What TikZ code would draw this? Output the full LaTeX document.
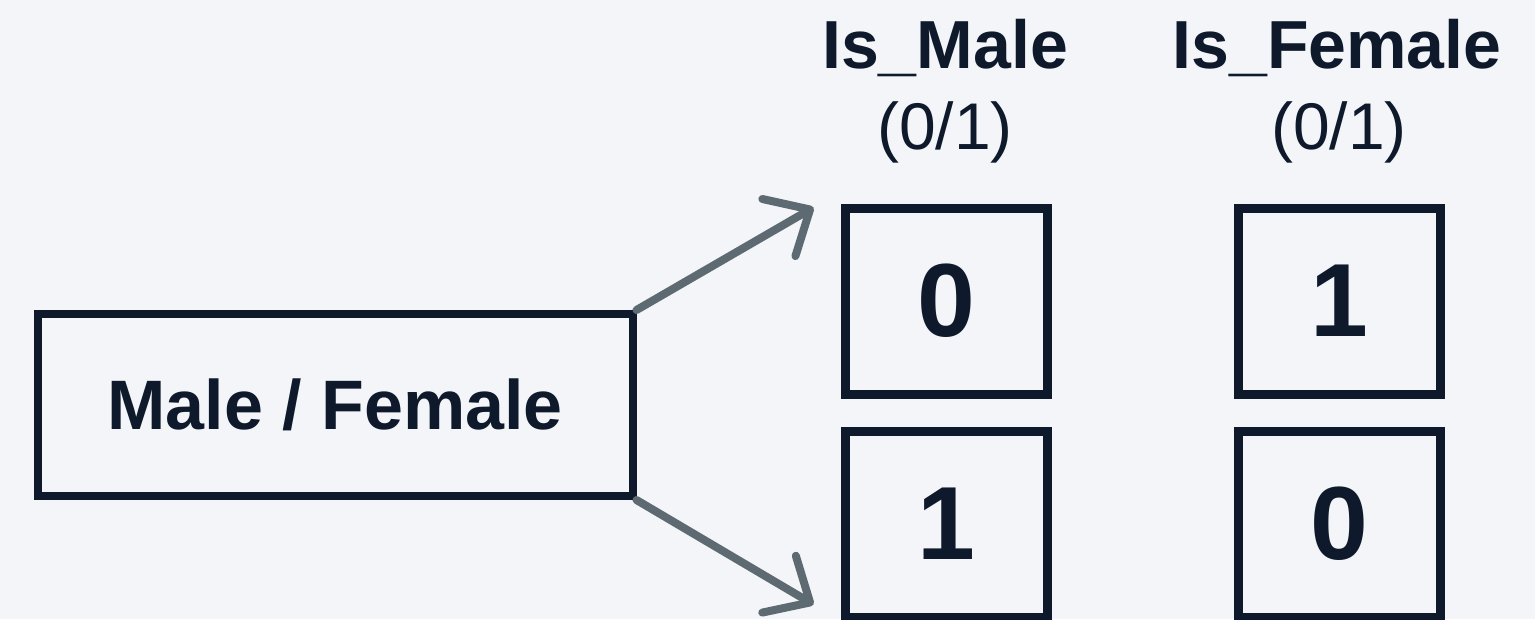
\documentclass[tikz,border=0pt]{standalone}
\usepackage{fontspec}
\setmainfont{Liberation Sans}
\usetikzlibrary{arrows.meta}
\definecolor{ink}{HTML}{0E1A2B}
\definecolor{arrowgray}{HTML}{5E6A72}
\definecolor{bg}{HTML}{F3F5F8}
\begin{document}
\begin{tikzpicture}[x=1pt,y=-1pt,
  srcbox/.style={draw=ink,line width=8pt,minimum width=595pt,minimum height=182pt,inner sep=0pt,
     font=\fontsize{70}{74}\selectfont\bfseries,text=ink},
  bitbox/.style={draw=ink,line width=9pt,minimum width=202pt,minimum height=186pt,inner sep=0pt,
     font=\fontsize{104}{104}\selectfont\bfseries,text=ink},
  head/.style={anchor=base,inner sep=0pt,font=\fontsize{68}{72}\selectfont\bfseries,text=ink},
  sub/.style={anchor=base,inner sep=0pt,font=\fontsize{66}{70}\selectfont,text=ink},
  conn/.style={draw=arrowgray,line width=8pt,line cap=round,
     -{Straight Barb[length=36pt,width=66pt,line join=round,line cap=round]}}]
\fill[bg] (0,0) rectangle (1535,619);
\useasboundingbox (0,0) rectangle (1535,619);

\node[srcbox] (src) at (335,405) {Male / Female};

\node[bitbox] (m0) at (946,301) {0};
\node[bitbox] (m1) at (946,524) {1};
\node[bitbox] (f0) at (1339,301) {1};
\node[bitbox] (f1) at (1339,524) {0};

\node[head] (hm) at (945,68) {Is\_Male};
\node[sub] (sm) at (945,149) {(0/1)};
\node[head] (hf) at (1337,68) {Is\_Female};
\node[sub] (sf) at (1339,149) {(0/1)};

\coordinate (t1) at ([xshift=-27pt,yshift=-4pt]m0.north west);
\coordinate (t2) at ([xshift=-27pt,yshift=17pt]m1.south west);
\draw[conn] (src.north east) -- (t1);
\draw[conn] (src.south east) -- (t2);
\end{tikzpicture}
\end{document}
